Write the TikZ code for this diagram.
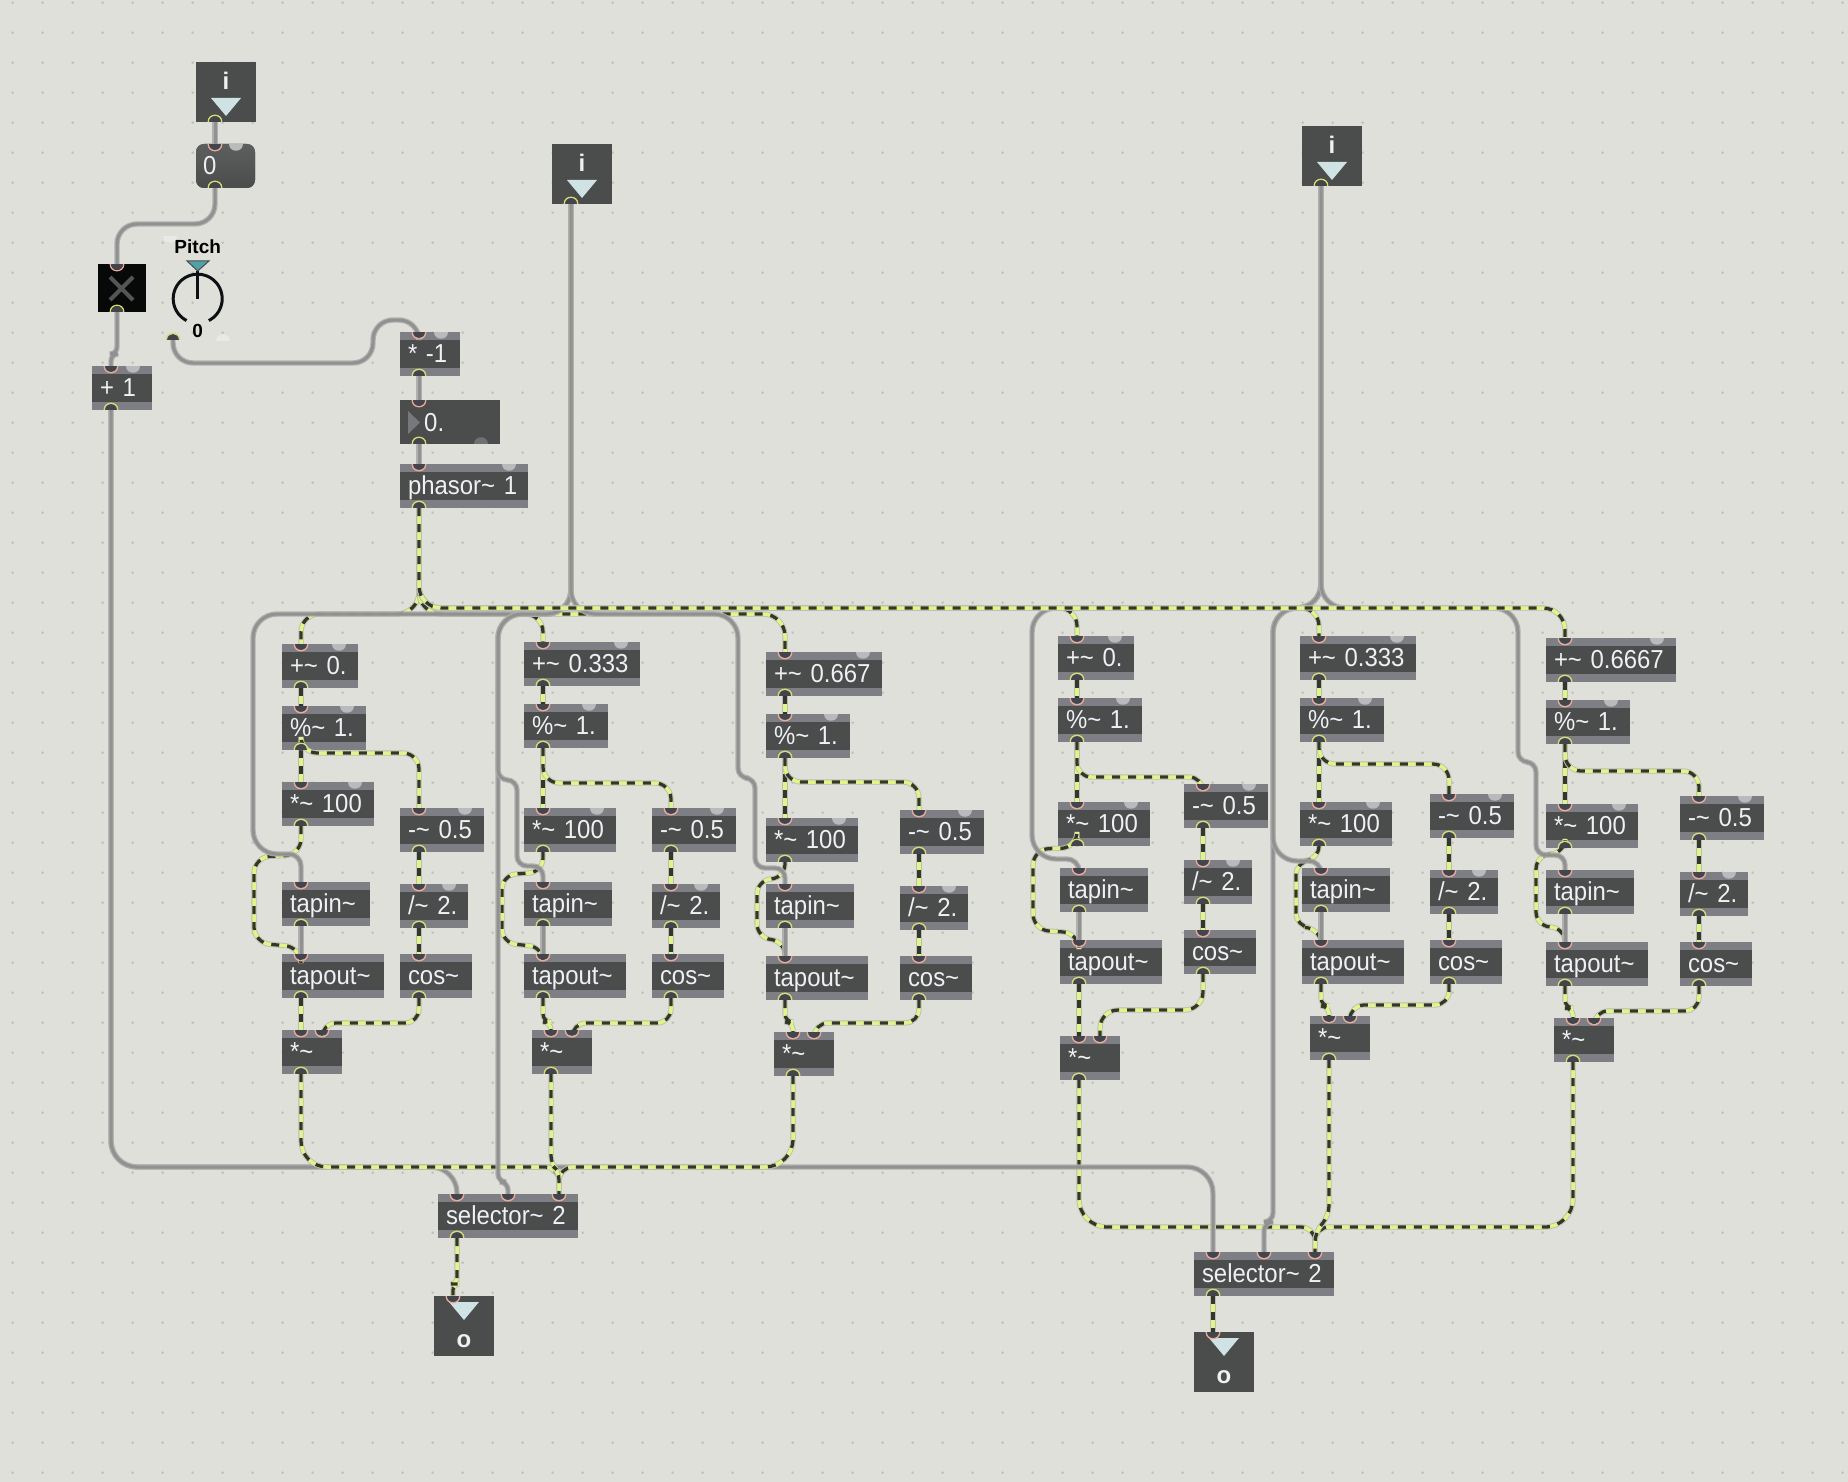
\documentclass[tikz,border=0pt]{standalone}
\usepackage{fontspec}
\setmainfont{Liberation Sans}
\newfontfamily\objfont[FakeStretch=0.92]{Liberation Sans}
\definecolor{bgc}{HTML}{DFE0DA}
\definecolor{dotc}{HTML}{B9BAB4}
\definecolor{darkc}{HTML}{4A4D4C}
\definecolor{stripc}{HTML}{7E7F84}
\definecolor{portc}{HTML}{43454C}
\definecolor{salmon}{HTML}{EBA99B}
\definecolor{yellowp}{HTML}{DADB72}
\definecolor{knobc}{HTML}{B9BABB}
\definecolor{txtc}{HTML}{EEF0F4}
\definecolor{sighalo}{HTML}{BBBCB2}
\definecolor{sigy}{HTML}{DFF58A}
\definecolor{sigd}{HTML}{33362A}
\definecolor{gryo}{HTML}{ADADAB}
\definecolor{gryi}{HTML}{8F8F8F}
\definecolor{triac}{HTML}{CFE3E4}
\definecolor{teal}{HTML}{4FA3A8}
\definecolor{dialc}{HTML}{0D1015}
\tikzset{
  objbox/.style={fill=stripc,inner xsep=8pt,inner ysep=0pt,outer sep=0pt,minimum height=44pt,
    align=left,text=txtc,text height=18pt,text depth=2pt,
    font=\objfont\fontsize{26}{28}\selectfont,
    path picture={\fill[darkc] ([yshift=-8pt]path picture bounding box.north west) rectangle ([yshift=8pt]path picture bounding box.south east);}},
  flatbox/.style={fill=darkc,inner sep=0pt,outer sep=0pt},
  bigtxt/.style={text=txtc,inner sep=0pt,font=\objfont\fontsize{26}{28}\selectfont},
  boldtxt/.style={text=txtc,inner sep=0pt,font=\fontsize{24}{26}\selectfont\bfseries},
  dialtxt/.style={text=black,inner sep=0pt,font=\fontsize{19}{21}\selectfont\bfseries},
  sigA/.style={draw=sighalo,line width=5.2pt},
  sigB/.style={draw=sigy,line width=3.5pt},
  sigC/.style={draw=sigd,line width=3.3pt,dash pattern=on 8pt off 8pt},
  gryA/.style={draw=gryo,line width=5.4pt,opacity=.92},
  gryB/.style={draw=gryi,line width=3pt,opacity=.92},
}
\newcommand\knobmark[2]{\begin{scope}[shift={({#1},{#2})}]\fill[knobc] (-7,0) .. controls (-7,9.33) and (7,9.33) .. (7,0) -- cycle;\end{scope}}
\newcommand\obj[6]{%
  \node[objbox,minimum width={(#4-#2)*1pt},text width={(#4-#2-16)*1pt},anchor=north west] (#1) at (#2,#3) {#5};
  \coordinate (#1-i) at ({#2+19},#3);
  \coordinate (#1-o) at ({#2+19},{#3+44});
  \ifnum#6=1 \knobmark{#4-19}{#3}\fi}
\newcommand\tl{\textasciitilde}
\newcommand\sigc[2][14pt]{%
  \draw[sigA,rounded corners=#1] #2;
  \draw[sigB,rounded corners=#1] #2;
  \draw[sigC,rounded corners=#1] #2;}
\newcommand\gryc[2][18pt]{%
  \draw[gryA,rounded corners=#1] #2;
  \draw[gryB,rounded corners=#1] #2;}
\newcommand\inmark[1]{\begin{scope}[shift={(#1)}]
  \fill[portc] (-6.2,0) .. controls (-6.2,8) and (6.2,8) .. (6.2,0) -- cycle;
  \draw[salmon,line width=1.3pt] (-6.8,0) .. controls (-6.8,9) and (6.8,9) .. (6.8,0);\end{scope}}
\newcommand\outmark[1]{\begin{scope}[shift={(#1)}]
  \fill[portc] (-6.2,0) .. controls (-6.2,-8) and (6.2,-8) .. (6.2,0) -- cycle;
  \draw[yellowp,line width=1.3pt] (-6.8,0) .. controls (-6.8,-9) and (6.8,-9) .. (6.8,0);\end{scope}}
\begin{document}
\begin{tikzpicture}[x=1pt,y=-1pt]
\fill[bgc] (0,0) rectangle (1848,1482);
\useasboundingbox (0,0) rectangle (1848,1482);
\fill[dotc] foreach \i in {0,...,61} { foreach \j in {0,...,49} {
  ({11.7+30*\i},{1.7+30*\j}) rectangle ++(2,2) } };

% inlets
\node[flatbox,minimum width=60pt,minimum height=60pt,anchor=north west] (in1) at (196,62) {};
\node[flatbox,minimum width=60pt,minimum height=60pt,anchor=north west] (in2) at (552,144) {};
\node[flatbox,minimum width=60pt,minimum height=60pt,anchor=north west] (in3) at (1302,126) {};
\coordinate (in1-o) at (215,122);
\coordinate (in2-o) at (571,204);
\coordinate (in3-o) at (1321,186);
\node[boldtxt] (in1t) at (226,81) {i};
\node[boldtxt] (in2t) at (582,163) {i};
\node[boldtxt] (in3t) at (1332,145) {i};
\fill[triac] (211,98) -- (241,98) -- (226,116) -- cycle;
\fill[triac] (567,180) -- (597,180) -- (582,198) -- cycle;
\fill[triac] (1317,162) -- (1347,162) -- (1332,180) -- cycle;

% message, toggle, dial
\node[fill=darkc,top color=darkc!90!white,bottom color=darkc,rounded corners=8pt,inner sep=0pt,outer sep=0pt,minimum width=59pt,minimum height=44pt,anchor=north west] (msg) at (196,144) {};
\coordinate (msg-i) at (215,144); \coordinate (msg-o) at (215,188);
\knobmark{236}{144}
\node[bigtxt,anchor=base west] (msgt) at (203,175) {0};
\node[fill=black!90!darkc,inner sep=0pt,outer sep=0pt,minimum size=48pt,anchor=north west] (tog) at (98,264) {};
\coordinate (tog-i) at (117,264); \coordinate (tog-o) at (117,312);
\draw[line width=4pt,color=darkc!95!white] (110,277) -- (133,300) (133,277) -- (110,300);
\node[dialtxt] (pitch) at (197.7,247) {Pitch};
\draw[line width=3pt,color=dialc] plot[smooth,domain=-153:153,samples=50] ({197.7+24.5*sin(\x)},{298.7-24.5*cos(\x)});
\draw[line width=3pt,color=dialc] (197.7,271) -- (197.7,299);
\draw[fill=teal,draw=darkc,line width=1pt] (187,261) -- (209,261) -- (197.7,271) -- cycle;
\node[dialtxt] (dialv) at (197.7,331) {0};
\coordinate (dial-o) at (173,340);
\begin{scope}[shift={(223,341)}]\fill[bgc!70!white] (-7,0) .. controls (-7,-9) and (7,-9) .. (7,0) -- cycle;\end{scope}
\begin{scope}[shift={(170,236.5)}]\fill[bgc!70!white] (-7,0) .. controls (-7,9) and (7,9) .. (7,0) -- cycle;\end{scope}

\obj{mone}{400}{332}{460}{* -1}{1}
\obj{plusone}{92}{366}{152}{+ 1}{1}
\node[flatbox,minimum width=100pt,minimum height=44pt,anchor=north west] (num) at (400,400) {};
\coordinate (num-i) at (419,400); \coordinate (num-o) at (419,444);
\fill[stripc!85!darkc] (408,411) -- (420,422.5) -- (408,434) -- cycle;
\node[bigtxt,anchor=base west] (numt) at (424,431) {0.};
\begin{scope}[shift={(481,444)}]\fill[stripc!70!darkc] (-7,0) .. controls (-7,-9.33) and (7,-9.33) .. (7,0) -- cycle;\end{scope}
\obj{ph}{400}{464}{528}{phasor\tl{} 1}{1}

% group a
\obj{aplus}{282}{644}{358}{+\tl{} 0.}{1}
\obj{amod}{282}{706}{366}{\%\tl{} 1.}{1}
\obj{amul}{282}{782}{374}{*\tl{} 100}{1}
\obj{asub}{400}{808}{484}{-\tl{} 0.5}{1}
\obj{atin}{282}{882}{370}{tapin\tl}{0}
\obj{adiv}{400}{884}{468}{/\tl{} 2.}{1}
\obj{atout}{282}{954}{384}{tapout\tl}{0}
\obj{acos}{400}{954}{472}{cos\tl}{0}
\obj{aamp}{282}{1030}{342}{*\tl}{0}
% group b
\obj{bplus}{524}{642}{640}{+\tl{} 0.333}{1}
\obj{bmod}{524}{704}{608}{\%\tl{} 1.}{1}
\obj{bmul}{524}{808}{616}{*\tl{} 100}{1}
\obj{bsub}{652}{808}{736}{-\tl{} 0.5}{1}
\obj{btin}{524}{882}{612}{tapin\tl}{0}
\obj{bdiv}{652}{884}{720}{/\tl{} 2.}{1}
\obj{btout}{524}{954}{626}{tapout\tl}{0}
\obj{bcos}{652}{954}{724}{cos\tl}{0}
\obj{bamp}{532}{1030}{592}{*\tl}{0}
% group c
\obj{cplus}{766}{652}{882}{+\tl{} 0.667}{1}
\obj{cmod}{766}{714}{850}{\%\tl{} 1.}{1}
\obj{cmul}{766}{818}{858}{*\tl{} 100}{1}
\obj{csub}{900}{810}{984}{-\tl{} 0.5}{1}
\obj{ctin}{766}{884}{854}{tapin\tl}{0}
\obj{cdiv}{900}{886}{968}{/\tl{} 2.}{1}
\obj{ctout}{766}{956}{868}{tapout\tl}{0}
\obj{ccos}{900}{956}{972}{cos\tl}{0}
\obj{camp}{774}{1032}{834}{*\tl}{0}
% group d
\obj{dplus}{1058}{636}{1134}{+\tl{} 0.}{1}
\obj{dmod}{1058}{698}{1142}{\%\tl{} 1.}{1}
\obj{dmul}{1058}{802}{1150}{*\tl{} 100}{1}
\obj{dsub}{1184}{784}{1268}{-\tl{} 0.5}{1}
\obj{dtin}{1060}{868}{1148}{tapin\tl}{0}
\obj{ddiv}{1184}{860}{1252}{/\tl{} 2.}{1}
\obj{dtout}{1060}{940}{1162}{tapout\tl}{0}
\obj{dcos}{1184}{930}{1256}{cos\tl}{0}
\obj{damp}{1060}{1036}{1120}{*\tl}{0}
% group e
\obj{eplus}{1300}{636}{1416}{+\tl{} 0.333}{1}
\obj{emod}{1300}{698}{1384}{\%\tl{} 1.}{1}
\obj{emul}{1300}{802}{1392}{*\tl{} 100}{1}
\obj{esub}{1430}{794}{1514}{-\tl{} 0.5}{1}
\obj{etin}{1302}{868}{1390}{tapin\tl}{0}
\obj{ediv}{1430}{870}{1498}{/\tl{} 2.}{1}
\obj{etout}{1302}{940}{1404}{tapout\tl}{0}
\obj{ecos}{1430}{940}{1502}{cos\tl}{0}
\obj{eamp}{1310}{1016}{1370}{*\tl}{0}
% group f
\obj{fplus}{1546}{638}{1676}{+\tl{} 0.6667}{1}
\obj{fmod}{1546}{700}{1630}{\%\tl{} 1.}{1}
\obj{fmul}{1546}{804}{1638}{*\tl{} 100}{1}
\obj{fsub}{1680}{796}{1764}{-\tl{} 0.5}{1}
\obj{ftin}{1546}{870}{1634}{tapin\tl}{0}
\obj{fdiv}{1680}{872}{1748}{/\tl{} 2.}{1}
\obj{ftout}{1546}{942}{1648}{tapout\tl}{0}
\obj{fcos}{1680}{942}{1752}{cos\tl}{0}
\obj{famp}{1554}{1018}{1614}{*\tl}{0}
% second inlets of the multipliers
\coordinate (aamp-j) at (322,1030);
\coordinate (bamp-j) at (572,1030);
\coordinate (camp-j) at (814,1032);
\coordinate (damp-j) at (1100,1036);
\coordinate (eamp-j) at (1350,1016);
\coordinate (famp-j) at (1594,1018);
% selectors and outlets
\obj{sela}{438}{1194}{578}{selector\tl{} 2}{0}
\obj{selb}{1194}{1252}{1334}{selector\tl{} 2}{0}
\coordinate (sela-j) at (508,1194); \coordinate (sela-k) at (559,1194);
\coordinate (selb-j) at (1264,1252); \coordinate (selb-k) at (1315,1252);
\node[flatbox,minimum width=60pt,minimum height=60pt,anchor=north west] (outa) at (434,1296) {};
\node[flatbox,minimum width=60pt,minimum height=60pt,anchor=north west] (outb) at (1194,1332) {};
\coordinate (outa-i) at (453,1296);
\coordinate (outb-i) at (1213,1332);
\fill[triac] (449,1302) -- (479,1302) -- (464,1320) -- cycle;
\fill[triac] (1209,1338) -- (1239,1338) -- (1224,1356) -- cycle;
\node[boldtxt] (outat) at (464,1341) {o};
\node[boldtxt] (outbt) at (1224,1377) {o};

% cords, upper part
\gryc{(in1-o) -- (msg-i)}
\gryc[20pt]{(msg-o) -- (215,224) -- (117,224) -- (tog-i)}
\gryc[7pt]{(tog-o) -- (117,354) -- (111,354) -- (plusone-i)}
\gryc[20pt]{(dial-o) -- (173,363) -- (373,363) -- (373,320) -- (419,320) -- (mone-i)}
\gryc{(mone-o) -- (num-i)}
\gryc{(num-o) -- (ph-i)}

% signal to the selector, second bank
\sigc[28pt]{(damp-o) -- (1079,1227) [rounded corners=14pt] -- (1315,1227) -- (selb-k)}
\sigc[28pt]{(famp-o) -- (1573,1227) [rounded corners=14pt] -- (1315,1227) -- (selb-k)}
\sigc[10pt]{(eamp-o) -- (1329,1216) -- (1315,1232) -- (selb-k)}
% pitch-control line
\gryc[26pt]{(plusone-o) -- (111,1167) -- (1213,1167) -- (selb-i)}
\gryc[26pt]{(plusone-o) -- (111,1167) -- (457,1167) -- (sela-i)}
% signal to the selector, first bank
\sigc[26pt]{(aamp-o) -- (301,1167) [rounded corners=14pt] -- (559,1167) -- (sela-k)}
\sigc[28pt]{(camp-o) -- (793,1167) [rounded corners=14pt] -- (559,1167) -- (sela-k)}
\sigc[8pt]{(bamp-o) -- (551,1164) -- (559,1172) -- (sela-k)}

% phasor distribution, lower branches
\sigc[22pt]{(ph-o) -- (419,614) [rounded corners=18pt] -- (301,614) -- (aplus-i)}
\sigc[22pt]{(ph-o) -- (419,614) [rounded corners=18pt] -- (543,614) -- (bplus-i)}
\sigc[22pt]{(ph-o) -- (419,614) -- (785,614) -- (cplus-i)}

% internal signal cords
\foreach \g in {a,b,c,d,e,f}{
  \sigc{(\g plus-o) -- (\g mod-i)}
  \sigc{(\g mod-o) -- (\g mul-i)}
  \sigc{(\g sub-o) -- (\g div-i)}
  \sigc{(\g div-o) -- (\g cos-i)}
}
\sigc[16pt]{(amod-o) -- (301,753) -- (419,753) -- (asub-i)}
\sigc[16pt]{(bmod-o) -- (543,783) -- (671,783) -- (bsub-i)}
\sigc[16pt]{(cmod-o) -- (785,782) -- (919,782) -- (csub-i)}
\sigc[14pt]{(dmod-o) -- (1077,777) -- (1203,777) -- (dsub-i)}
\sigc[16pt]{(emod-o) -- (1319,764) -- (1449,764) -- (esub-i)}
\sigc[16pt]{(fmod-o) -- (1565,771) -- (1699,771) -- (fsub-i)}

\sigc[16pt]{(amul-o) -- (301,855) -- (254,857) -- (254,943) -- (301,947) -- (atout-i)}
\sigc[14pt]{(bmul-o) -- (543,872) -- (502,875) -- (502,943) -- (543,947) -- (btout-i)}
\sigc[14pt]{(cmul-o) -- (785,878) -- (757,880) -- (757,938) -- (785,941) -- (ctout-i)}
\sigc[16pt]{(dmul-o) -- (1077,848) -- (1033,849) -- (1033,930) -- (1079,933) -- (dtout-i)}
\sigc[14pt]{(emul-o) -- (1319,860) -- (1296,861) -- (1296,927) -- (1319,928) -- (etout-i)}
\sigc[14pt]{(fmul-o) -- (1565,853) -- (1536,855) -- (1536,926) -- (1565,928) -- (ftout-i)}

\sigc{(atout-o) -- (aamp-i)}
\sigc{(dtout-o) -- (damp-i)}
\sigc[8pt]{(btout-o) -- (543,1022) -- (551,1022) -- (bamp-i)}
\sigc[8pt]{(ctout-o) -- (785,1022) -- (793,1022) -- (camp-i)}
\sigc[8pt]{(etout-o) -- (1321,1006) -- (1329,1006) -- (eamp-i)}
\sigc[8pt]{(ftout-o) -- (1565,1008) -- (1573,1008) -- (famp-i)}
\sigc{(acos-o) -- (419,1023) -- (322,1023) -- (aamp-j)}
\sigc{(bcos-o) -- (671,1023) -- (572,1023) -- (bamp-j)}
\sigc{(ccos-o) -- (919,1023) -- (814,1023) -- (camp-j)}
\sigc[18pt]{(dcos-o) -- (1203,1010) -- (1100,1010) -- (damp-j)}
\sigc{(ecos-o) -- (1449,1005) -- (1350,1005) -- (eamp-j)}
\sigc{(fcos-o) -- (1699,1011) -- (1594,1011) -- (famp-j)}
\sigc[6pt]{(sela-o) -- (457,1284) -- (453,1284) -- (outa-i)}
\sigc{(selb-o) -- (outb-i)}

% first control inlet
\gryc[24pt]{(in2-o) -- (571,614) -- (253,614) -- (253,854) [rounded corners=12pt] -- (301,854) -- (atin-i)}
\gryc[24pt]{(in2-o) -- (571,614) -- (498,614) [rounded corners=8pt] -- (498,1182) -- (508,1182) -- (sela-j)}
\gryc[24pt]{(in2-o) -- (571,614) -- (498,614) [rounded corners=10pt] -- (498,780) -- (517,780) -- (517,866) -- (543,866) -- (btin-i)}
\gryc[24pt]{(in2-o) -- (571,614) -- (738,614) [rounded corners=10pt] -- (738,778) -- (755,778) -- (755,868) -- (785,868) -- (ctin-i)}
% second control inlet
\gryc[24pt]{(in3-o) -- (1321,608) -- (1032,608) -- (1032,859) [rounded corners=12pt] -- (1079,859) -- (dtin-i)}
\gryc[24pt]{(in3-o) -- (1321,608) -- (1273,608) [rounded corners=9pt] -- (1273,1222) -- (1264,1222) -- (selb-j)}
\gryc[24pt]{(in3-o) -- (1321,608) -- (1273,608) -- (1273,861) [rounded corners=12pt] -- (1321,861) -- (etin-i)}
\gryc[24pt]{(in3-o) -- (1321,608) -- (1518,608) [rounded corners=10pt] -- (1518,762) -- (1536,762) -- (1536,855) -- (1565,855) -- (ftin-i)}
\foreach \g in {a,b,c,d,e,f}{ \gryc{(\g tin-o) -- (\g tout-i)} }

% phasor distribution, upper branches
\sigc[22pt]{(ph-o) -- (419,608) [rounded corners=18pt] -- (1077,608) -- (dplus-i)}
\sigc[22pt]{(ph-o) -- (419,608) [rounded corners=18pt] -- (1319,608) -- (eplus-i)}
\sigc[22pt]{(ph-o) -- (419,608) -- (1565,608) -- (fplus-i)}

% ports
\foreach \n in {msg,tog,mone,plusone,num,ph,sela,selb,outa,outb,aamp,bamp,camp,damp,eamp,famp}{\inmark{\n-i}}
\foreach \n in {aamp-j,bamp-j,camp-j,damp-j,eamp-j,famp-j,sela-j,sela-k,selb-j,selb-k}{\inmark{\n}}
\foreach \n in {in1,in2,in3,msg,tog,dial,mone,plusone,num,ph,sela,selb,aamp,bamp,camp,damp,eamp,famp}{\outmark{\n-o}}
\foreach \g in {a,b,c,d,e,f}{
  \foreach \n in {plus,mod,mul,sub,tin,div,tout,cos}{\inmark{\g\n-i}\outmark{\g\n-o}}
}
\end{tikzpicture}
\end{document}
